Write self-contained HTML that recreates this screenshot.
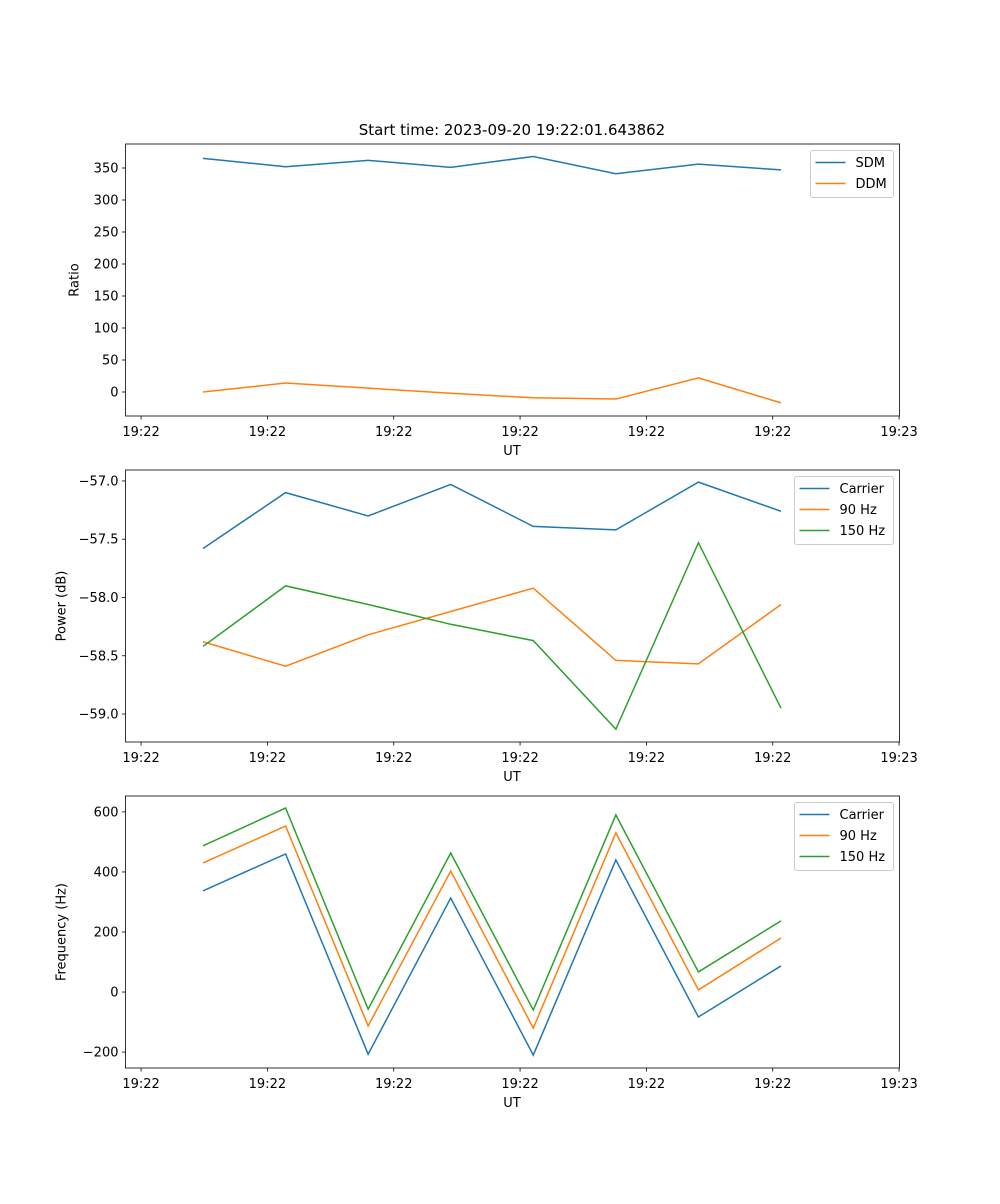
<!DOCTYPE html>
<html><head><meta charset="utf-8"><style>
body{margin:0;background:#fff;font-family:"DejaVu Sans","Liberation Sans",sans-serif}
svg text{font-family:"DejaVu Sans","Liberation Sans",sans-serif;font-size:13px;fill:#000}
</style></head><body>
<svg id="fig" width="1000" height="1200" xmlns="http://www.w3.org/2000/svg">
<text x="512" y="135" text-anchor="middle" font-size="15" style="font-size:15px">Start time: 2023-09-20 19:22:01.643862</text>
</svg>
<script>
const sampleIdx=[0,1,2,3,4,5,6,7];
const xTickPos=[-0.75,0.78,2.31,3.84,5.37,6.90,8.43];
const xTickLabels=["19:22","19:22","19:22","19:22","19:22","19:22","19:23"];
const sdm=[365,352,362,351,368,341,356,347];
const ddm=[0,14,6,-2,-9,-11,22,-17];
const pCarrier=[-57.58,-57.10,-57.30,-57.03,-57.39,-57.42,-57.01,-57.26];
const p90=[-58.38,-58.59,-58.32,-58.12,-57.92,-58.54,-58.57,-58.06];
const p150=[-58.42,-57.90,-58.06,-58.23,-58.37,-59.13,-57.53,-58.95];
const fCarrier=[337,460,-207,313,-210,440,-83,87];
const f90=[430,553,-113,403,-120,530,7,180];
const f150=[487,613,-57,463,-60,590,67,237];
const ticks1=[0,50,100,150,200,250,300,350];
const ticks2=[-59.0,-58.5,-58.0,-57.5,-57.0];
const ticks3=[-200,0,200,400,600];
const C=["#1f77b4","#ff7f0e","#2ca02c"];
const svg=document.getElementById('fig');
const NS="http://www.w3.org/2000/svg";
function mk(t,a,p){const e=document.createElementNS(NS,t);for(const k in a)e.setAttribute(k,a[k]);(p||svg).appendChild(e);return e;}
const L=125.5,R=899.5;
const xS=i=>203+i*82.57;
function panel(name,top,bot,ymin,ymax,yt,fmt,ylabel,series,names,legW){
  const g=mk('g',{});
  
  
  const yS=v=>bot-(v-ymin)/(ymax-ymin)*(bot-top);
  series.forEach((s,k)=>{
    const pl=mk('polyline',{points:s.map((v,i)=>xS(sampleIdx[i])+','+yS(v)).join(' '),fill:'none',stroke:C[k],'stroke-width':1.5},g);
    
    
  });
  mk('rect',{x:L,y:top,width:R-L,height:bot-top,fill:'none',stroke:'#000','stroke-width':0.8},g);
  yt.forEach(v=>{const y=yS(v);mk('line',{x1:L-3.5,x2:L,y1:y,y2:y,stroke:'#000','stroke-width':0.8},g);
    const t=mk('text',{x:L-7,y:y+4.5,'text-anchor':'end'},g);t.textContent=fmt(v);
    });
  xTickPos.forEach((p,i)=>{const x=xS(p);mk('line',{x1:x,x2:x,y1:bot,y2:bot+3.5,stroke:'#000','stroke-width':0.8},g);
    const t=mk('text',{x:x,y:bot+20,'text-anchor':'middle'},g);t.textContent=xTickLabels[i];
    });
  const xl=mk('text',{x:512,y:bot+39,'text-anchor':'middle'},g);xl.textContent='UT';
  
  const cy=(top+bot)/2, lx=L-(ylabel.length>6?60:47);
  const yl=mk('text',{x:lx,y:cy,'text-anchor':'middle',transform:`rotate(-90 ${lx} ${cy})`},g);yl.textContent=ylabel;
  
  const lg=mk('g',{},g);
  
  const bx=R-6-legW,by=top+6.5;
  mk('rect',{x:bx,y:by,width:legW,height:names.length*21+5,rx:2.5,fill:'#fff','fill-opacity':0.8,stroke:'#ccc'},lg);
  names.forEach((n,k)=>{const y=by+12+k*21;
    mk('line',{x1:bx+5,x2:bx+35,y1:y,y2:y,stroke:C[k],'stroke-width':1.5},lg);
    const t=mk('text',{x:bx+45,y:y+4.5},lg);t.textContent=n;
    });
}
panel('ratio',144,416,-37.5,387.5,ticks1,v=>String(v),'Ratio',[sdm,ddm],['SDM','DDM'],83);
panel('power',470,742,-59.24,-56.906,ticks2,v=>v.toFixed(1).replace('-','\u2212'),'Power (dB)',[pCarrier,p90,p150],['Carrier','90 Hz','150 Hz'],99);
panel('frequency',796,1068,-253,653,ticks3,v=>String(v).replace('-','\u2212'),'Frequency (Hz)',[fCarrier,f90,f150],['Carrier','90 Hz','150 Hz'],99);
</script>
</body></html>
